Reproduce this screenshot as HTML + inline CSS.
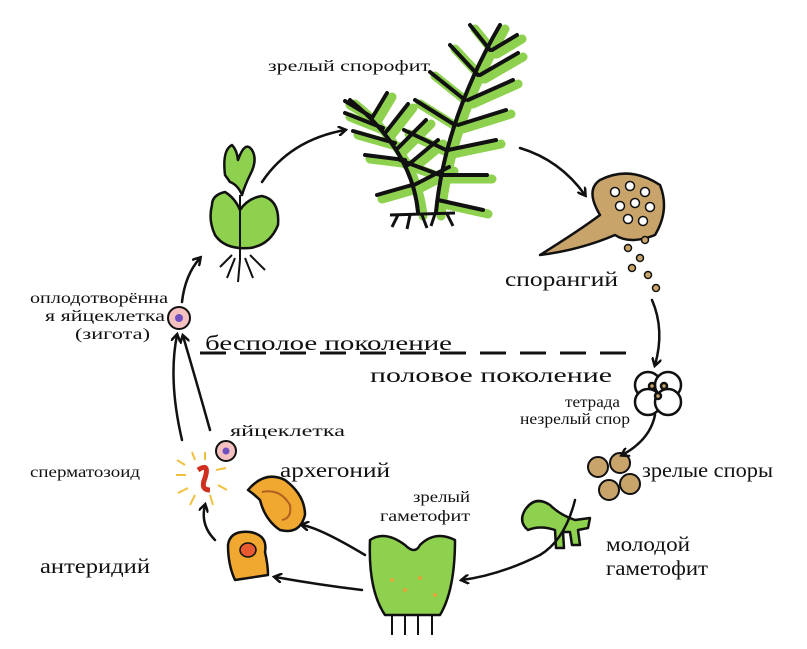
<!DOCTYPE html>
<html><head><meta charset="utf-8">
<style>
html,body{margin:0;padding:0;background:#fff;}
svg{display:block;font-family:"Liberation Serif","DejaVu Serif",serif;}
.lbl{font-size:16px;fill:#111;}
.big{font-size:21px;fill:#111;}
.ar{fill:none;stroke:#111;stroke-width:2.5;stroke-linecap:round;}
.ol{stroke:#111;stroke-width:2.5;stroke-linejoin:round;}
.lf{stroke:#111;stroke-width:4;fill:none;stroke-linecap:round;}
.lg{stroke:#8ed14f;stroke-width:9;fill:none;stroke-linecap:round;}
</style></head>
<body>
<svg width="807" height="649" viewBox="0 0 807 649">
<defs>
<marker id="ah" markerWidth="10" markerHeight="10" refX="7" refY="5" orient="auto" markerUnits="userSpaceOnUse">
<path d="M0,0 L8,5 L0,10" fill="none" stroke="#111" stroke-width="2.5"/>
</marker>
</defs>

<!-- mature sporophyte -->
<g>
<g transform="translate(5,4)" class="lg">
<path d="M418,212 Q412,150 350,100"/>
<path d="M436,212 Q445,120 500,25"/>
<path d="M405,160 l-40,-5 M395,143 l-42,-12 M383,128 l-38,-15 M370,116 l-25,-15 M408,165 l30,-25 M398,148 l28,-28 M386,132 l22,-28 M372,118 l15,-25 M412,185 l-35,10 M414,185 l35,-18"/>
<path d="M440,175 l-40,-15 M446,150 l-42,-20 M455,125 l-40,-25 M465,100 l-35,-28 M478,75 l-28,-30 M490,50 l-20,-25 M442,175 l45,0 M448,150 l48,-10 M458,125 l48,-15 M468,100 l45,-20 M480,75 l38,-22 M492,50 l25,-15 M438,200 l45,10"/>
</g>
<g class="lf">
<path d="M418,212 Q412,150 350,100"/>
<path d="M436,212 Q445,120 500,25"/>
<path d="M405,160 l-40,-5 M395,143 l-42,-12 M383,128 l-38,-15 M370,116 l-25,-15 M408,165 l30,-25 M398,148 l28,-28 M386,132 l22,-28 M372,118 l15,-25 M412,185 l-35,10 M414,185 l35,-18"/>
<path d="M440,175 l-40,-15 M446,150 l-42,-20 M455,125 l-40,-25 M465,100 l-35,-28 M478,75 l-28,-30 M490,50 l-20,-25 M442,175 l45,0 M448,150 l48,-10 M458,125 l48,-15 M468,100 l45,-20 M480,75 l38,-22 M492,50 l25,-15 M438,200 l45,10"/>
</g>
<path d="M390,215 L455,213 M398,215 l-6,12 M410,215 l-3,14 M422,215 l5,13 M435,214 l-4,12 M447,214 l6,12" stroke="#111" stroke-width="3" fill="none"/>
</g>
<text x="268" y="71" class="lbl" textLength="162" lengthAdjust="spacingAndGlyphs">зрелый спорофит</text>

<!-- sporangium -->
<g>
<path class="ol" fill="#c9a46a" d="M540,255 Q580,230 600,215 Q585,190 600,180 Q630,165 660,185 Q670,210 655,235 Q630,245 615,235 Q580,250 540,255 Z"/>
<g fill="#fff" stroke="#111" stroke-width="1.5">
<circle cx="615" cy="192" r="4.5"/><circle cx="630" cy="186" r="4.5"/><circle cx="645" cy="192" r="4.5"/>
<circle cx="620" cy="206" r="4.5"/><circle cx="635" cy="203" r="4.5"/><circle cx="650" cy="207" r="4.5"/>
<circle cx="628" cy="219" r="4.5"/><circle cx="643" cy="221" r="4.5"/>
</g>
<g fill="#c9a46a" stroke="#111" stroke-width="1.5">
<circle cx="628" cy="248" r="3.5"/><circle cx="640" cy="258" r="3.5"/><circle cx="632" cy="268" r="3.5"/>
<circle cx="648" cy="275" r="3.5"/><circle cx="656" cy="288" r="3.5"/><circle cx="645" cy="240" r="3.5"/>
</g>
</g>
<text x="505" y="286" class="big" textLength="113" lengthAdjust="spacingAndGlyphs">спорангий</text>

<!-- generation divider -->
<line x1="200" y1="353" x2="640" y2="353" stroke="#111" stroke-width="3" stroke-dasharray="26,14"/>
<text x="205" y="350" class="big" textLength="247" lengthAdjust="spacingAndGlyphs">бесполое поколение</text>
<text x="370" y="382" class="big" textLength="242" lengthAdjust="spacingAndGlyphs">половое поколение</text>

<!-- tetrad -->
<g fill="#fff" stroke="#111" stroke-width="2.5">
<circle cx="648" cy="385" r="13"/><circle cx="668" cy="385" r="13"/><circle cx="648" cy="402" r="13"/><circle cx="668" cy="402" r="13"/>
<circle cx="652" cy="386" r="3" fill="#c9a46a"/><circle cx="664" cy="386" r="3" fill="#c9a46a"/><circle cx="658" cy="396" r="3" fill="#c9a46a"/>
</g>
<text x="565" y="407" class="lbl" textLength="55" lengthAdjust="spacingAndGlyphs">тетрада</text>
<text x="520" y="424" class="lbl" textLength="110" lengthAdjust="spacingAndGlyphs">незрелый спор</text>

<!-- mature spores -->
<g fill="#c9a46a" stroke="#111" stroke-width="2">
<circle cx="598" cy="467" r="10"/><circle cx="620" cy="463" r="10"/><circle cx="609" cy="490" r="10"/><circle cx="630" cy="484" r="10"/>
</g>
<text x="642" y="477" class="big" textLength="131" lengthAdjust="spacingAndGlyphs">зрелые споры</text>

<!-- young gametophyte -->
<path class="ol" fill="#8ed14f" d="M525,510 Q535,495 550,505 Q560,515 575,520 L590,518 L588,528 L578,530 L580,545 L572,545 L570,532 L563,532 L564,548 L556,548 L555,530 Q540,525 528,530 Q518,522 525,510 Z"/>
<text x="606" y="551" class="big" textLength="84" lengthAdjust="spacingAndGlyphs">молодой</text>
<text x="606" y="575" class="big" textLength="102" lengthAdjust="spacingAndGlyphs">гаметофит</text>

<!-- mature gametophyte -->
<g>
<path class="ol" fill="#8ed14f" d="M370,540 Q385,530 405,545 Q415,555 420,545 Q435,530 455,540 Q455,590 440,615 L385,615 Q368,590 370,540 Z"/>
<path d="M392,615 v20 M405,615 v20 M418,615 v20 M432,615 v20" stroke="#111" stroke-width="2"/>
<g fill="#e8a23a"><circle cx="392" cy="580" r="2"/><circle cx="405" cy="590" r="2"/><circle cx="420" cy="578" r="2"/><circle cx="435" cy="595" r="2"/></g>
</g>
<text x="413" y="502" class="lbl" textLength="57" lengthAdjust="spacingAndGlyphs">зрелый</text>
<text x="380" y="521" class="lbl" textLength="90" lengthAdjust="spacingAndGlyphs">гаметофит</text>

<!-- antheridium -->
<g>
<path class="ol" fill="#f0a830" d="M228,545 Q230,530 250,532 Q268,535 265,552 Q268,565 268,575 L235,580 Q228,565 228,545 Z"/>
<ellipse cx="248" cy="550" rx="8" ry="7" fill="#e85a30" stroke="#111" stroke-width="1.5"/>
</g>
<text x="40" y="573" class="big" textLength="110" lengthAdjust="spacingAndGlyphs">антеридий</text>

<!-- archegonium -->
<g>
<path class="ol" fill="#f0a830" d="M248,490 Q265,470 285,480 Q305,495 305,515 Q300,535 280,530 Q265,520 260,500 Q255,495 248,490 Z"/>
<path d="M262,492 Q280,488 290,505 Q292,518 282,520" fill="none" stroke="#b06020" stroke-width="2"/>
</g>
<text x="280" y="477" class="big" textLength="110" lengthAdjust="spacingAndGlyphs">архегоний</text>

<!-- egg -->
<circle cx="226" cy="451" r="10" fill="#f4c0c0" stroke="#111" stroke-width="2"/>
<circle cx="226" cy="451" r="3.5" fill="#7050c0"/>
<text x="230" y="436" class="lbl" textLength="115" lengthAdjust="spacingAndGlyphs">яйцеклетка</text>

<!-- sperm -->
<g>
<path d="M185,465 l-8,-5 M186,475 l-10,0 M188,488 l-10,5 M195,495 l-5,10 M210,495 l3,10 M218,485 l9,5 M216,470 l10,-2 M205,460 l0,-8 M195,460 l-3,-8" stroke="#f0c040" stroke-width="2"/>
<path d="M198,470 Q210,462 205,478 Q200,490 210,490" stroke="#d03020" stroke-width="5" fill="none"/>
</g>
<text x="30" y="477" class="lbl" textLength="110" lengthAdjust="spacingAndGlyphs">сперматозоид</text>

<!-- zygote -->
<circle cx="179" cy="318" r="11" fill="#f4c0c0" stroke="#111" stroke-width="2"/>
<circle cx="179" cy="318" r="4" fill="#7050c0"/>
<text x="30" y="303" class="lbl" textLength="138" lengthAdjust="spacingAndGlyphs">оплодотворённа</text>
<text x="45" y="321" class="lbl" textLength="120" lengthAdjust="spacingAndGlyphs">я яйцеклетка</text>
<text x="75" y="339" class="lbl" textLength="75" lengthAdjust="spacingAndGlyphs">(зигота)</text>

<!-- seedling -->
<g>
<path class="ol" fill="#8ed14f" d="M225,175 Q222,150 232,145 Q237,150 238,160 Q245,140 252,150 Q258,160 250,175 Q245,185 242,195 Q238,185 230,182 Z"/>
<path class="ol" fill="#8ed14f" d="M212,205 Q212,195 225,192 Q235,198 240,210 Q248,198 262,196 Q280,200 278,225 Q270,245 250,248 Q225,250 215,235 Q208,220 212,205 Z"/>
<path d="M240,195 L240,245" stroke="#111" stroke-width="2"/>
<path d="M240,245 v15 M235,258 l-8,20 M240,260 l-2,22 M245,258 l8,20 M250,255 l15,15 M232,255 l-12,12" stroke="#111" stroke-width="2" fill="none"/>
</g>

<!-- cycle arrows -->
<g>
<path class="ar" marker-end="url(#ah)" d="M262,182 Q290,140 345,130"/>
<path class="ar" marker-end="url(#ah)" d="M520,148 Q560,160 585,195"/>
<path class="ar" marker-end="url(#ah)" d="M652,300 Q665,330 655,365"/>
<path class="ar" marker-end="url(#ah)" d="M655,415 Q650,440 622,455"/>
<path class="ar" marker-end="url(#ah)" d="M575,500 Q565,540 540,555 Q500,575 462,580"/>
<path class="ar" marker-end="url(#ah)" d="M365,555 Q320,528 302,525"/>
<path class="ar" marker-end="url(#ah)" d="M362,590 Q320,585 275,577"/>
<path class="ar" marker-end="url(#ah)" d="M215,540 Q200,525 205,505"/>
<path class="ar" marker-end="url(#ah)" d="M210,430 Q196,380 183,336"/>
<path class="ar" marker-end="url(#ah)" d="M182,440 Q168,380 177,335"/>
<path class="ar" marker-end="url(#ah)" d="M182,302 Q185,275 200,258"/>
</g>
</svg>
</body></html>
